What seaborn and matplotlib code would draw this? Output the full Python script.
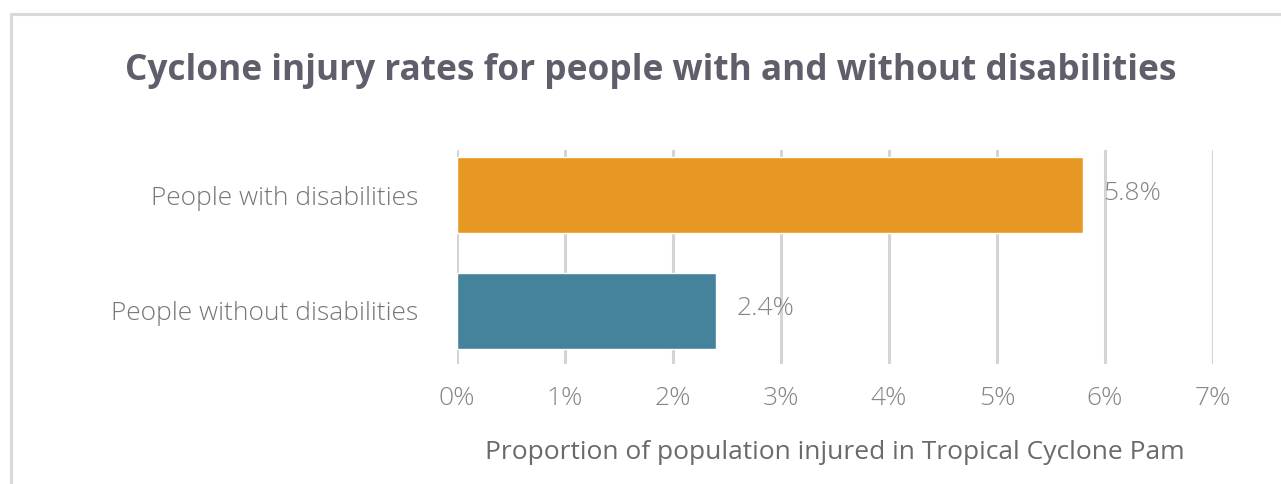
import matplotlib
matplotlib.use("Agg")
import matplotlib.pyplot as plt
import seaborn as sns
import pandas as pd
from matplotlib.patches import Rectangle

categories = ["People with disabilities", "People without disabilities"]
values = [5.8, 2.4]
value_labels = ["5.8%", "2.4%"]
tick_values = [0, 1, 2, 3, 4, 5, 6, 7]
tick_labels = ["0%", "1%", "2%", "3%", "4%", "5%", "6%", "7%"]
colors = ["#E79822", "#44839B"]
title = "Cyclone injury rates for people with and without disabilities"
xlabel = "Proportion of population injured in Tropical Cyclone Pam"

sns.set_theme(style="white")
plt.rcParams["font.family"] = ["Open Sans", "DejaVu Sans"]

df = pd.DataFrame({"category": categories, "value": values})

fig = plt.figure(figsize=(12.81, 4.84), dpi=100)
ax = fig.add_axes([457/1281, 1-364/484, (1213-457)/1281, (364-150)/484])

sns.barplot(data=df, x="value", y="category", hue="category", palette=colors,
            legend=False, ax=ax, width=0.655, saturation=1, orient="h")

ax.set_xlim(0, 7)
ax.set_ylim(1.457, -0.388)
ax.set_xticks(tick_values)
ax.set_xticklabels(tick_labels, color="#858585", fontsize=19, fontweight="light")
ax.tick_params(axis="x", length=0, pad=15.5)
ax.tick_params(axis="y", length=0, pad=28)
for lbl in ax.get_yticklabels():
    lbl.set_color("#767676")
    lbl.set_fontsize(19)
    lbl.set_fontweight("light")
ax.set_ylabel("")
ax.set_xlabel(xlabel, color="#6a6a6a", fontsize=19, labelpad=21)
ax.grid(axis="x", color="#d4d4d4", linewidth=2.2)
ax.set_axisbelow(True)
for s in ax.spines.values():
    s.set_visible(False)

for i, (v, t) in enumerate(zip(values, value_labels)):
    ax.annotate(t, xy=(v, i), xytext=(20, 2), textcoords="offset pixels",
                va="center", ha="left", color="#858585", fontsize=19, fontweight="light")

fig.text(651/1281, 1-71/484, title, ha="center", va="center",
         fontsize=25.4, fontweight="bold", color="#5f5f6b")

fig.patches.append(Rectangle((11/1281, -0.1), 1.2, 1-14/484+0.1, transform=fig.transFigure,
                             fill=False, edgecolor="#d9d9d9", linewidth=2.2, zorder=0))

fig.savefig("out.png", dpi=100)
